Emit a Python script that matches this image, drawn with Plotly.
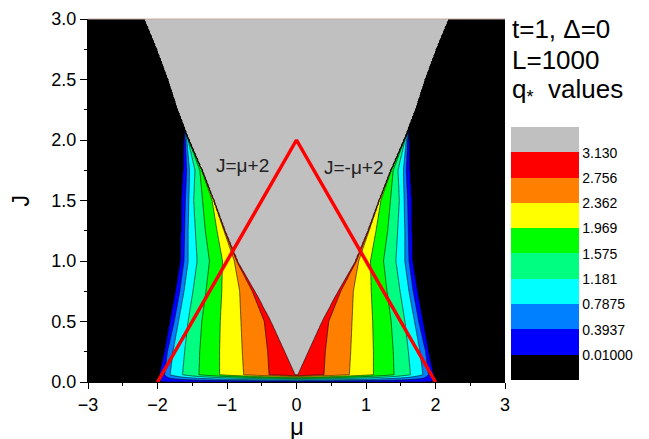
import numpy as np
import plotly.graph_objects as go

# ---------------- data ----------------
# contour levels of q* (legend labels)
level_values = [0.01, 0.3937, 0.7875, 1.181, 1.575, 1.969, 2.362, 2.756, 3.130]
level_labels = ["0.01000", "0.3937", "0.7875", "1.181", "1.575", "1.969", "2.362", "2.756", "3.130"]
q_top = 3.1416  # value inside the grey region (q* ~ pi)

# J rows at which the level crossings were read (left lobe, mu<0; right lobe is its mirror)
J_rows = [0.06, 0.25, 0.5, 0.75, 1.0, 1.25, 1.5, 1.75, 2.0, 2.1, 2.25, 2.5, 2.75, 3.0]
# mu position where q* crosses each level, one list per level, one entry per J row
mu_at_q0010 = [-1.97, -1.90, -1.82, -1.74, -1.67, -1.66, -1.655, -1.63, -1.62, -1.62, -1.72, -1.86, -2.02, -2.20]
mu_at_q0394 = [-1.90, -1.86, -1.76, -1.68, -1.62, -1.61, -1.60, -1.58, -1.60, -1.62, -1.72, -1.86, -2.02, -2.20]
mu_at_q0788 = [-1.82, -1.78, -1.70, -1.62, -1.56, -1.56, -1.55, -1.54, -1.58, -1.62, -1.72, -1.86, -2.02, -2.20]
mu_at_q1181 = [-1.64, -1.61, -1.56, -1.49, -1.43, -1.455, -1.48, -1.46, -1.56, -1.62, -1.72, -1.86, -2.02, -2.20]
mu_at_q1575 = [-1.40, -1.39, -1.36, -1.30, -1.25, -1.31, -1.35, -1.39, -1.55, -1.62, -1.72, -1.86, -2.02, -2.20]
mu_at_q1969 = [-1.10, -1.10, -1.09, -1.07, -1.06, -1.14, -1.21, -1.36, -1.55, -1.62, -1.72, -1.86, -2.02, -2.20]
mu_at_q2362 = [-0.75, -0.77, -0.79, -0.81, -0.89, -1.04, -1.19, -1.36, -1.55, -1.62, -1.72, -1.86, -2.02, -2.20]
mu_at_q2756 = [-0.38, -0.40, -0.45, -0.63, -0.86, -1.035, -1.19, -1.36, -1.55, -1.62, -1.72, -1.86, -2.02, -2.20]
mu_at_q3130 = [-0.02, -0.17, -0.37, -0.60, -0.85, -1.03, -1.19, -1.36, -1.55, -1.62, -1.72, -1.86, -2.02, -2.20]

# reference lines J = mu + 2 and J = -mu + 2
line_mu = [-2, 0, 2]
line_J = [0, 2, 0]

band_colors = ["#000000", "#0000FF", "#0080FF", "#00FFFF", "#00FF80",
               "#00FF00", "#FFFF00", "#FF8000", "#FF0000", "#C0C0C0"]

# ---------------- build the field from the read crossings ----------------
cross_tab = np.array([mu_at_q0010, mu_at_q0394, mu_at_q0788, mu_at_q1181, mu_at_q1575,
                      mu_at_q1969, mu_at_q2362, mu_at_q2756, mu_at_q3130])
mu_grid = np.round(np.arange(-3.0, 3.0001, 0.01), 3)
J_grid = np.round(np.arange(0.06, 3.0001, 0.01), 3)

rows = [np.zeros_like(mu_grid)]  # J = 0 edge row
for J in J_grid:
    c = np.array([np.interp(J, J_rows, col) for col in cross_tab])
    for i in range(1, len(c)):
        c[i] = max(c[i], c[i - 1] + 1e-4)
    xp = np.concatenate([[-3.01, c[0] - 0.012], c, [c[-1] + 0.012, 0.01]])
    fp = np.concatenate([[0.0, 0.0], level_values, [q_top, q_top]])
    rows.append(np.interp(-np.abs(mu_grid), xp, fp))
Z = np.round(np.array(rows), 4)
y_vals = np.concatenate([[0.0], J_grid])

start = level_values[0]
size = 0.39
end = start + size * (len(level_values) - 1)
nb = len(band_colors)
# contour fill colours: band k midpoint maps to k/(nb-1)
contour_scale = [[k / (nb - 1), col] for k, col in enumerate(band_colors)]
# stepped scale for the legend bar: nb equal bands
bar_scale = []
for k, col in enumerate(band_colors):
    bar_scale.append([k / nb, col])
    bar_scale.append([(k + 1) / nb, col])
bar_min, bar_max = start - size, end + size
bar_ticks = [start + size * k for k in range(len(level_values))]

FONT = "Liberation Sans, Arial, sans-serif"
L, R, T, B = 88, 143.5, 19.3, 57.3
PW, PH = 649 - L - R, 439 - T - B

def px_x(px):
    return (px - L) / PW

def px_y(py):
    return (439 - B - py) / PH

fig = go.Figure()
fig.add_trace(go.Contour(
    x=mu_grid, y=y_vals, z=Z,
    autocontour=False,
    contours=dict(start=start, end=end, size=size, coloring="fill", showlines=True),
    line=dict(color="black", width=0.6),
    colorscale=contour_scale, showscale=False,
    hoverinfo="skip",
))
# legend colour bar carrier: its two cells lie outside the axis range, so only the bar shows
fig.add_trace(go.Heatmap(
    z=[[bar_min, bar_max]], x=[10, 11], y=[10],
    zmin=bar_min, zmax=bar_max, colorscale=bar_scale, hoverinfo="skip",
    colorbar=dict(
        xref="paper", yref="paper",
        x=px_x(512), xanchor="left",
        y=px_y(380), yanchor="bottom",
        len=253, lenmode="pixels",
        thickness=68, thicknessmode="pixels",
        xpad=0, ypad=0, outlinewidth=0,
        ticks="", tickvals=bar_ticks, ticktext=level_labels,
        tickfont=dict(family=FONT, size=14, color="black"),
    ),
))
fig.add_trace(go.Scatter(x=line_mu, y=line_J, mode="lines",
                         line=dict(color="#FF0000", width=3.5), hoverinfo="skip", showlegend=False))

annos = [
    dict(x=-0.77, y=1.79, xref="x", yref="y", text="J=μ+2", showarrow=False,
         font=dict(family=FONT, size=19, color="#222222")),
    dict(x=0.83, y=1.77, xref="x", yref="y", text="J=-μ+2", showarrow=False,
         font=dict(family=FONT, size=19, color="#222222")),
    dict(x=px_x(511), y=px_y(29), xref="paper", yref="paper", text="t=1, Δ=0", showarrow=False,
         xanchor="left", yanchor="middle", font=dict(family=FONT, size=26, color="black")),
    dict(x=px_x(511), y=px_y(60), xref="paper", yref="paper", text="L=1000", showarrow=False,
         xanchor="left", yanchor="middle", font=dict(family=FONT, size=26, color="black")),
    dict(x=px_x(511), y=px_y(91), xref="paper", yref="paper", text="q<sub>*</sub>&nbsp;&nbsp;values",
         showarrow=False, xanchor="left", yanchor="middle",
         font=dict(family=FONT, size=26, color="black")),
    dict(x=0.5, y=px_y(426), xref="paper", yref="paper", text="μ", showarrow=False,
         xanchor="center", yanchor="middle", font=dict(family=FONT, size=24, color="black")),
    dict(x=px_x(20), y=0.5, xref="paper", yref="paper", text="J", showarrow=False, textangle=-90,
         xanchor="center", yanchor="middle", font=dict(family=FONT, size=23, color="black")),
]

fig.update_layout(
    width=649, height=439,
    margin=dict(l=L, r=R, t=T, b=B, autoexpand=False),
    paper_bgcolor="white", plot_bgcolor="white",
    showlegend=False,
    annotations=annos,
    shapes=[dict(type="line", xref="paper", yref="paper", x0=0, x1=1, y0=1, y1=1,
                 line=dict(color="#c8a8a8", width=1))],
    xaxis=dict(range=[-3, 3], autorange=False, tickmode="linear", tick0=-3, dtick=1, ticks="outside",
               ticklen=6, tickcolor="black", showline=True, linecolor="black", linewidth=1,
               showgrid=False, zeroline=False,
               minor=dict(ticks="outside", dtick=0.5, ticklen=3, tickcolor="black"),
               tickfont=dict(family=FONT, size=18, color="black")),
    yaxis=dict(range=[0, 3], autorange=False, tickmode="linear", tick0=0, dtick=0.5, tickformat=".1f",
               ticks="outside", ticklen=7, tickcolor="black", showline=True, linecolor="black",
               linewidth=1, showgrid=False, zeroline=False,
               minor=dict(ticks="outside", dtick=0.25, ticklen=3, tickcolor="black"),
               tickfont=dict(family=FONT, size=18, color="black")),
)

fig.write_html("out.html")
